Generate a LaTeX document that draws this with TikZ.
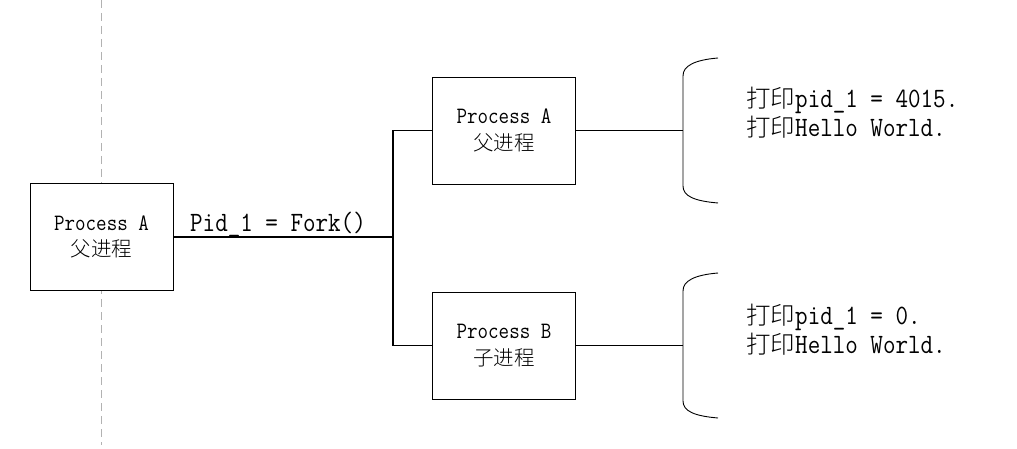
\documentclass[tikz,border=0pt]{standalone}
\usepackage{fontspec}
\newfontfamily\cjk{Noto Sans CJK SC}[UprightFont=* Light]
\newfontfamily\mono{Latin Modern Mono}[FakeStretch=0.87]
\tikzset{
  procbox/.style={draw, line width=0.9pt, fill=white, minimum width=143pt, minimum height=107pt, inner sep=0pt, align=center, font=\fontsize{20.5}{26.5}\selectfont},
  link/.style={line width=1.4pt},
  bracket/.style={line width=0.9pt},
  outtext/.style={anchor=west, align=left, inner sep=0pt, font=\fontsize{24.5}{29}\selectfont}
}
\newcommand{\boxlat}[1]{{\fontsize{23.5}{26.5}\selectfont\mono #1}}
\newcommand{\biglat}[1]{{\fontsize{28}{29}\selectfont\mono #1}}
\begin{document}
\begin{tikzpicture}[x=1pt,y=-1pt]
\useasboundingbox (0,0) rectangle (1017,449);
\draw[gray!60, line width=0.9pt, dash pattern=on 8pt off 5pt] (101,0) -- (101,445);
\node[procbox] (pa) at (101.5,237) {\boxlat{Process A}\\{\cjk 父进程}};
\node[procbox] (pb) at (504,130.5) {\boxlat{Process A}\\{\cjk 父进程}};
\node[procbox] (pc) at (504,345.5) {\boxlat{Process B}\\{\cjk 子进程}};
\coordinate (fork) at (393,237);
\coordinate (b1) at (683,130.5);
\coordinate (b2) at (683,345.5);
\draw[link] (pa.east) -- (fork);
\draw[link] (pb.west) -| (fork) |- (pc.west);
\draw[link] (pb.east) -- (b1);
\draw[link] (pc.east) -- (b2);
\node[anchor=base west, inner sep=0pt] (lbl) at (190,231) {\biglat{Pid\_1 = Fork()}};
\draw[bracket] (718,58) .. controls (694,60) and (683,66) .. (683,76) -- (683,186) .. controls (683,196) and (694,201) .. (718,203);
\draw[bracket] (718,273) .. controls (694,275) and (683,281) .. (683,291) -- (683,401) .. controls (683,411) and (694,416) .. (718,418);
\node[outtext] (t1) at (746,113) {{\cjk 打印}\biglat{pid\_1 = 4015.}\\{\cjk 打印}\biglat{Hello World.}};
\node[outtext] (t2) at (746,330) {{\cjk 打印}\biglat{pid\_1 = 0.}\\{\cjk 打印}\biglat{Hello World.}};
\end{tikzpicture}
\end{document}
